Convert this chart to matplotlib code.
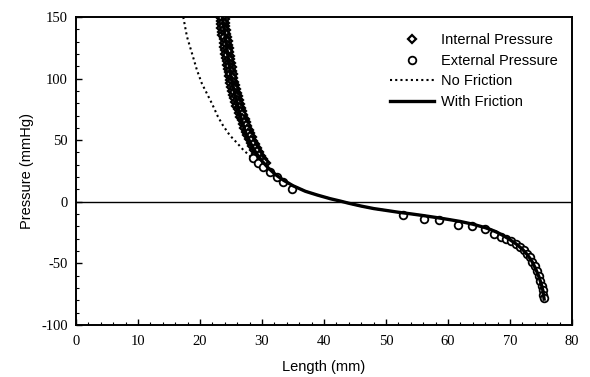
import matplotlib
matplotlib.use("Agg")
import matplotlib.pyplot as plt
from matplotlib.ticker import MultipleLocator

plt.rcParams["axes.unicode_minus"] = False

# With friction model curve (Length mm, Pressure mmHg)
fric_L = [23.6, 23.9, 24.2, 24.6, 25.0, 25.6, 26.2, 26.8, 27.3, 28.1, 29.0, 30.0,
          31.0, 32.2, 33.4, 35.0, 37.0, 38.9, 41.0, 42.6, 44.0, 46.0, 48.0, 50.0,
          52.0, 54.0, 56.0, 58.0, 60.0, 62.0, 64.0, 66.0, 67.0, 68.0, 69.0, 70.0,
          71.0, 72.0, 72.8, 73.5, 74.1, 74.6, 75.0, 75.3, 75.5]
fric_P = [150, 139, 129, 115, 101, 88, 75, 65, 57, 48, 40, 33,
          27.5, 22, 17.7, 13, 8.5, 5.5, 2.5, 0.6, -1.2, -3.5, -5.5, -7,
          -8.5, -9.8, -11.2, -12.7, -14.3, -16, -18.2, -21, -22.8, -25, -27.7, -30.8,
          -34.3, -38.5, -43, -48, -54, -60, -66, -72, -79]

# No friction model curve
nofric_L = [17.3, 17.9, 18.7, 19.5, 20.3, 21.1, 21.9, 22.9, 23.7, 24.8, 26.0, 27.0,
            28.4, 29.2, 30.0, 31.0, 32.2, 33.4, 35.0, 37.0, 38.9, 41.0, 42.6, 44.0,
            46.0, 48.0, 50.0, 52.0, 54.0, 56.0, 58.0, 60.0, 62.0, 64.0, 66.0, 67.0,
            68.0, 69.0, 70.0, 71.0, 72.0, 72.8, 73.5, 74.1, 74.6, 75.0, 75.3, 75.5]
nofric_P = [150, 134, 120.6, 107, 96, 88, 80, 69, 62, 54, 47.6, 42,
            35.6, 31.5, 29, 26, 21.5, 17.5, 13, 8.5, 5.5, 2.5, 0.6, -1.2,
            -3.5, -5.5, -7, -8.5, -9.8, -11.2, -12.7, -14.3, -16, -18.2, -21, -22.8,
            -25, -27.7, -30.8, -34.3, -38.5, -43, -48, -54, -60, -66, -72, -79]

# Internal pressure (diamonds)
int_L = [23.25, 23.35, 23.4, 23.45, 23.6, 23.6, 23.8, 23.85, 23.9, 24.05, 24.1, 24.2,
         24.35, 24.4, 24.45, 24.6, 24.6, 24.8, 24.9, 25.05, 25.2, 25.35, 25.5, 25.7,
         25.85, 26.05, 26.25, 26.45, 26.7, 26.9, 27.15, 27.35, 27.6, 27.85, 28.15, 28.45,
         28.75, 29.05, 29.45, 29.8,
         24.0, 24.0, 24.1, 24.2, 24.25, 24.4, 24.45, 24.55, 24.6, 24.75, 24.8, 24.9,
         25.0, 25.1, 25.15, 25.3, 25.35, 25.5, 25.6, 25.8, 25.9, 26.05, 26.25, 26.4,
         26.6, 26.8, 27.0, 27.2, 27.4, 27.65, 27.85, 28.1, 28.35, 28.6, 28.95, 29.2,
         29.55, 29.85, 30.2, 30.6,
         23.62, 23.75, 23.7, 23.85, 24.0, 23.95, 24.2, 24.15, 24.3, 24.45, 24.4, 24.6,
         24.7, 24.75, 24.9, 24.85, 25.1, 25.15, 25.3, 25.5, 25.55, 25.8, 25.9, 26.1,
         26.3, 26.45, 26.7, 26.85, 27.1, 27.35, 27.55, 27.8, 28.05, 28.3, 28.6, 28.9,
         29.2, 29.55, 29.9, 30.3]
int_P = [150, 147, 144, 141, 138, 135, 132, 129, 126, 123, 120, 117,
         114, 111, 108, 105, 102, 99, 96, 93, 90, 87, 84, 81,
         78, 75, 72, 69, 66, 63, 60, 57, 54, 51, 48, 45,
         42, 39, 36, 33,
         148.5, 145.5, 142.5, 139.5, 136.5, 133.5, 130.5, 127.5, 124.5, 121.5, 118.5, 115.5,
         112.5, 109.5, 106.5, 103.5, 100.5, 97.5, 94.5, 91.5, 88.5, 85.5, 82.5, 79.5,
         76.5, 73.5, 70.5, 67.5, 64.5, 61.5, 58.5, 55.5, 52.5, 49.5, 46.5, 43.5,
         40.5, 37.5, 34.5, 31.5,
         149, 146, 143, 140, 137, 134, 131, 128, 125, 122, 119, 116,
         113, 110, 107, 104, 101, 98, 95, 92, 89, 86, 83, 80,
         77, 74, 71, 68, 65, 62, 59, 56, 53, 50, 47, 44,
         41, 38, 35, 32]

# External pressure (circles)
ext_L = [28.6, 29.4, 30.2, 31.3, 32.4, 33.4, 34.8,
         52.7, 56.1, 58.5, 61.6, 63.9, 66.0, 67.4, 68.6, 69.4, 70.2, 70.9, 71.6,
         72.2, 72.7, 73.2, 73.6, 74.0, 74.3, 74.6, 74.9, 75.1, 75.3, 75.4, 75.5]
ext_P = [35.5, 31.5, 28, 24, 20, 16, 10.4,
         -10.7, -14, -15, -18.8, -19.5, -22, -26, -28.5, -30, -32, -34, -36.5,
         -39, -42, -45, -48.5, -52, -56, -60, -64, -68, -72, -75.5, -78]

x_ticks = [0, 10, 20, 30, 40, 50, 60, 70, 80]
y_ticks = [-100, -50, 0, 50, 100, 150]

fig = plt.figure(figsize=(5.9, 3.77), dpi=100)
ax = fig.add_axes([0.1288, 0.138, 0.8407, 0.817])

ax.axhline(0, color="black", lw=1.0, zorder=1)
ax.plot(int_L, int_P, linestyle="none", marker="D", markersize=4.2,
        markerfacecolor="white", markeredgecolor="black", markeredgewidth=1.6,
        label="Internal Pressure", zorder=3)
ax.plot(ext_L, ext_P, linestyle="none", marker="o", markersize=5.5,
        markerfacecolor="white", markeredgecolor="black", markeredgewidth=1.3,
        label="External Pressure", zorder=3)
ax.plot(nofric_L, nofric_P, color="black", lw=1.5, linestyle=(0, (1.0, 1.5)),
        label="No Friction", zorder=2)
ax.plot(fric_L, fric_P, color="black", lw=2.4, label="With Friction", zorder=4)

ax.set_xlim(0, 80)
ax.set_ylim(-100, 150)
ax.set_xticks(x_ticks)
ax.set_yticks(y_ticks)
ax.xaxis.set_minor_locator(MultipleLocator(2))
ax.yaxis.set_minor_locator(MultipleLocator(10))
ax.tick_params(which="both", direction="in", top=False, right=False, color="black")
ax.tick_params(which="major", length=4, width=1)
ax.tick_params(which="minor", length=2.5, width=0.8)
for lab in ax.get_xticklabels() + ax.get_yticklabels():
    lab.set_fontfamily("Liberation Serif")
    lab.set_fontsize(10.5)
ax.tick_params(axis="x", pad=7)
ax.tick_params(axis="y", pad=6)
for s in ax.spines.values():
    s.set_linewidth(1.4)

ax.set_xlabel("Length (mm)", fontfamily="Liberation Sans", fontsize=10.5, labelpad=9)
ax.set_ylabel("Pressure (mmHg)", fontfamily="Liberation Sans", fontsize=10.5, labelpad=5)

leg = ax.legend(loc="upper right", frameon=False, bbox_to_anchor=(0.994, 0.983),
                prop={"family": "Liberation Sans", "size": 10.5},
                handlelength=3.0, handletextpad=0.5, labelspacing=0.45,
                borderaxespad=0.35)
fig.savefig("out.png", dpi=100)
